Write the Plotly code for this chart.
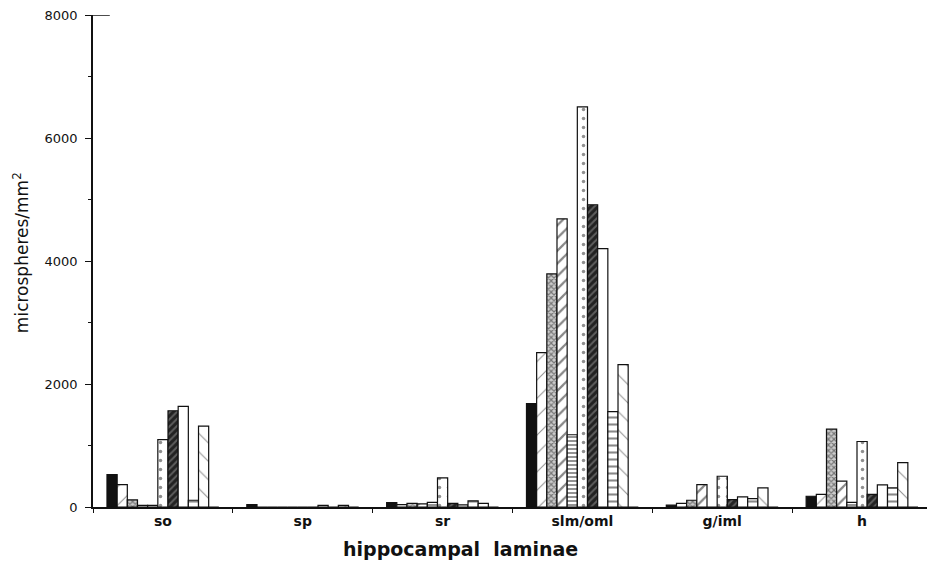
import plotly.graph_objects as go

categories = ["so", "sp", "sr", "slm/oml", "g/iml", "h"]

s1 = [525, 40, 70, 1680, 30, 175]
s2 = [365, 0, 40, 2510, 60, 205]
s3 = [115, 0, 60, 3790, 110, 1265]
s4 = [25, 0, 50, 4685, 365, 420]
s5 = [25, 0, 75, 1175, 0, 75]
s6 = [1095, 0, 475, 6505, 500, 1065]
s7 = [1565, 0, 60, 4915, 120, 205]
s8 = [1635, 25, 35, 4200, 165, 360]
s9 = [110, 0, 100, 1550, 135, 310]
s10 = [1315, 25, 60, 2315, 310, 720]
s11 = [0, 0, 0, 0, 0, 0]

y_max = 8000
x_title = "hippocampal\u00a0 laminae"
y_title = "microspheres/mm<sup>2</sup>"

series = [s1, s2, s3, s4, s5, s6, s7, s8, s9, s10, s11]

styles = [
    dict(color="#111111"),
    dict(color="white", pattern=dict(shape="/", size=13, solidity=0.08, fgcolor="#222", bgcolor="white")),
    dict(color="white", pattern=dict(shape="x", size=4, solidity=0.5, fgcolor="#222", bgcolor="#ccc")),
    dict(color="white", pattern=dict(shape="/", size=9, solidity=0.25, fgcolor="#111", bgcolor="white")),
    dict(color="white", pattern=dict(shape="-", size=4, solidity=0.45, fgcolor="#111", bgcolor="white")),
    dict(color="white", pattern=dict(shape=".", size=9, solidity=0.12, fgcolor="#222", bgcolor="white")),
    dict(color="#222", pattern=dict(shape="/", size=5, solidity=0.4, fgcolor="#999", bgcolor="#222")),
    dict(color="white"),
    dict(color="white", pattern=dict(shape="-", size=7, solidity=0.3, fgcolor="#111", bgcolor="white")),
    dict(color="white", pattern=dict(shape="\\", size=13, solidity=0.08, fgcolor="#222", bgcolor="white")),
    dict(color="white"),
]

fig = go.Figure()
for vals, st in zip(series, styles):
    marker = dict(color=st["color"], line=dict(color="#111", width=1.2))
    if "pattern" in st:
        marker["pattern"] = st["pattern"]
    fig.add_trace(go.Bar(x=categories, y=vals, marker=marker, showlegend=False))

FONT = "DejaVu Sans, sans-serif"
fig.update_layout(
    width=927, height=561,
    margin=dict(l=85, r=3, t=7, b=62, autoexpand=False),
    paper_bgcolor="white", plot_bgcolor="white",
    barmode="group", bargap=0.2, bargroupgap=0,
    font=dict(family=FONT, color="#111"),
    xaxis=dict(
        automargin=False,
        showline=True, linecolor="#111", linewidth=1.5,
        ticks="outside", tickson="boundaries", ticklen=4, tickcolor="#111",
        tickfont=dict(size=14, family=FONT, color="#111", weight="bold"),
        showgrid=False,
    ),
    yaxis=dict(
        automargin=False,
        range=[0, y_max], dtick=2000, showline=True, linecolor="#111", linewidth=1.5,
        ticks="outside", ticklen=6, tickcolor="#111", ticklabelstandoff=5,
        ticklabeloverflow="allow",
        tickfont=dict(size=13, family=FONT, color="#111"),
        minor=dict(dtick=1000, ticks="outside", ticklen=3, tickcolor="#111"),
        showgrid=False, zeroline=False,
    ),
    shapes=[
        dict(type="line", xref="paper", yref="y", x0=0, x1=0.02, y0=y_max, y1=y_max,
             line=dict(color="#111", width=1.5)),
    ],
    annotations=[
        dict(text="<b>" + x_title + "</b>", xref="paper", yref="paper", x=0.4386, y=-0.0854,
             xanchor="center", yanchor="middle", showarrow=False,
             font=dict(size=19, family=FONT, color="#111")),
        dict(text=y_title, xref="paper", yref="paper", x=-0.0858, y=0.516, textangle=-90,
             xanchor="center", yanchor="middle", showarrow=False,
             font=dict(size=17, family=FONT, color="#111")),
    ],
)

fig.write_html("out.html")
